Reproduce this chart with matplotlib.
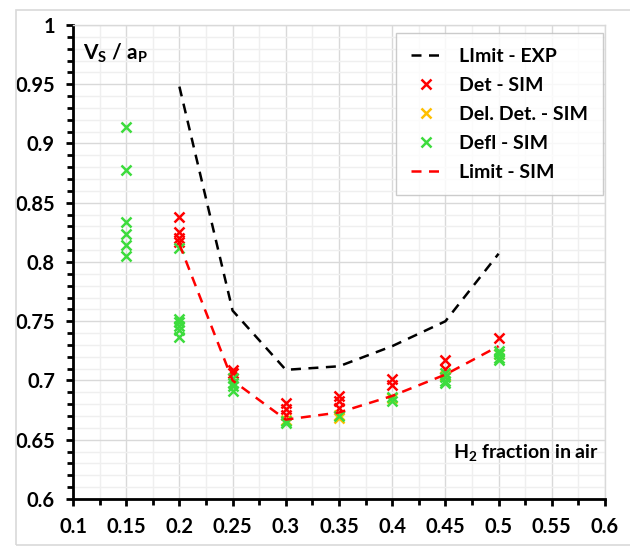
import matplotlib
matplotlib.use("Agg")
import matplotlib.pyplot as plt
from matplotlib.ticker import MultipleLocator
from matplotlib.patches import Rectangle

plt.rcParams['font.family'] = ['Lato', 'DejaVu Sans']
plt.rcParams['font.weight'] = 'bold'
plt.rcParams['mathtext.fontset'] = 'custom'
plt.rcParams['mathtext.rm'] = 'Lato'
plt.rcParams['mathtext.bf'] = 'Lato:bold'

# Limite expérimentale
x_exp = [0.2, 0.25, 0.3, 0.35, 0.4, 0.45, 0.5]
y_exp = [0.948, 0.759, 0.709, 0.712, 0.729, 0.750, 0.807]

# Limite simulée
x_lim = [0.2, 0.25, 0.3, 0.35, 0.4, 0.45, 0.5]
y_lim = [0.815, 0.700, 0.667, 0.673, 0.687, 0.705, 0.729]

# Det - SIM
x_det = [0.2, 0.2, 0.2, 0.2, 0.25, 0.25, 0.3, 0.3, 0.3, 0.35, 0.35, 0.35, 0.4, 0.4, 0.45, 0.45, 0.5]
y_det = [0.838, 0.825, 0.820, 0.817, 0.709, 0.706, 0.681, 0.676, 0.671, 0.687, 0.683, 0.677, 0.701, 0.696, 0.717, 0.710, 0.736]

# Del. Det. - SIM
x_del = [0.3, 0.35, 0.35, 0.4, 0.45, 0.5]
y_del = [0.667, 0.671, 0.668, 0.685, 0.704, 0.722]

# Defl - SIM
x_defl = [0.15, 0.15, 0.15, 0.15, 0.15, 0.15,
          0.2, 0.2, 0.2, 0.2, 0.2, 0.2,
          0.25, 0.25, 0.25, 0.25,
          0.3, 0.3, 0.35, 0.4, 0.4,
          0.45, 0.45, 0.45, 0.45,
          0.5, 0.5, 0.5, 0.5]
y_defl = [0.914, 0.878, 0.834, 0.824, 0.814, 0.805,
          0.812, 0.752, 0.749, 0.746, 0.743, 0.737,
          0.702, 0.698, 0.695, 0.691,
          0.666, 0.664, 0.670, 0.686, 0.683,
          0.706, 0.703, 0.700, 0.698,
          0.725, 0.722, 0.719, 0.717]

fig = plt.figure(figsize=(6.3, 5.52), dpi=100)
ax = fig.add_axes([73 / 630, 53 / 552, 532 / 630, 474 / 552])

# cadre extérieur
fig.patches.append(Rectangle((16 / 630, 7 / 552), 1.0, 535 / 552, transform=fig.transFigure,
                             fill=False, edgecolor='#d9d9d9', linewidth=1.2))

ax.plot(x_exp, y_exp, color='black', linestyle=(0, (4, 3)), linewidth=1.8, label='LImit - EXP', zorder=3)
ax.plot(x_det, y_det, linestyle='none', marker='x', markersize=7.5, markeredgewidth=1.8,
        color='#ff0000', label='Det - SIM', zorder=4)
ax.plot(x_del, y_del, linestyle='none', marker='x', markersize=7.5, markeredgewidth=1.8,
        color='#ffc000', label='Del. Det. - SIM', zorder=5)
ax.plot(x_defl, y_defl, linestyle='none', marker='x', markersize=7.5, markeredgewidth=1.8,
        color='#3ddc3d', label='Defl - SIM', zorder=6)
ax.plot(x_lim, y_lim, color='#ff0000', linestyle=(0, (4, 3)), linewidth=1.8, label='Limit - SIM', zorder=7)

ax.set_xlim(0.1, 0.6)
ax.set_ylim(0.6, 1.0)
ax.xaxis.set_major_locator(MultipleLocator(0.05))
ax.xaxis.set_minor_locator(MultipleLocator(0.025))
ax.yaxis.set_major_locator(MultipleLocator(0.05))
ax.yaxis.set_minor_locator(MultipleLocator(0.01))
ax.xaxis.set_major_formatter(plt.FuncFormatter(lambda v, p: f"{v:g}"))
ax.yaxis.set_major_formatter(plt.FuncFormatter(lambda v, p: f"{v:g}"))

ax.grid(which='major', color='#d9d9d9', linewidth=1.0, zorder=0)
ax.grid(which='minor', color='#efefef', linewidth=1.0, zorder=0)
ax.set_axisbelow(True)

for s in ['left', 'bottom']:
    ax.spines[s].set_linewidth(2.0)
    ax.spines[s].set_color('black')
for s in ['top', 'right']:
    ax.spines[s].set_color('#d9d9d9')
    ax.spines[s].set_linewidth(1.0)

ax.tick_params(which='major', direction='out', length=5, width=2, labelsize=14.5, pad=8)
ax.tick_params(which='minor', direction='out', length=4, width=2)
ax.tick_params(top=False, right=False, which='both')

ax.text(0.018, 0.965, r'$\mathbf{V_S}$ / $\mathbf{a_P}$', transform=ax.transAxes, fontsize=15,
        ha='left', va='top')
ax.text(0.989, 0.075, r'$\mathbf{H_2}$ fraction in air', transform=ax.transAxes, fontsize=14,
        ha='right', va='bottom', fontweight='bold')

leg = ax.legend(loc='upper right', bbox_to_anchor=((603 - 73) / 532, (499 - 33) / 474),
                bbox_transform=ax.transAxes,
                fontsize=14, frameon=True, fancybox=False, edgecolor='#bfbfbf',
                handlelength=1.6, labelspacing=0.62, borderpad=0.75, handletextpad=0.9,
                borderaxespad=0)
leg.get_frame().set_linewidth(1.0)
leg.set_zorder(10)

fig.savefig('out.png', dpi=100)
